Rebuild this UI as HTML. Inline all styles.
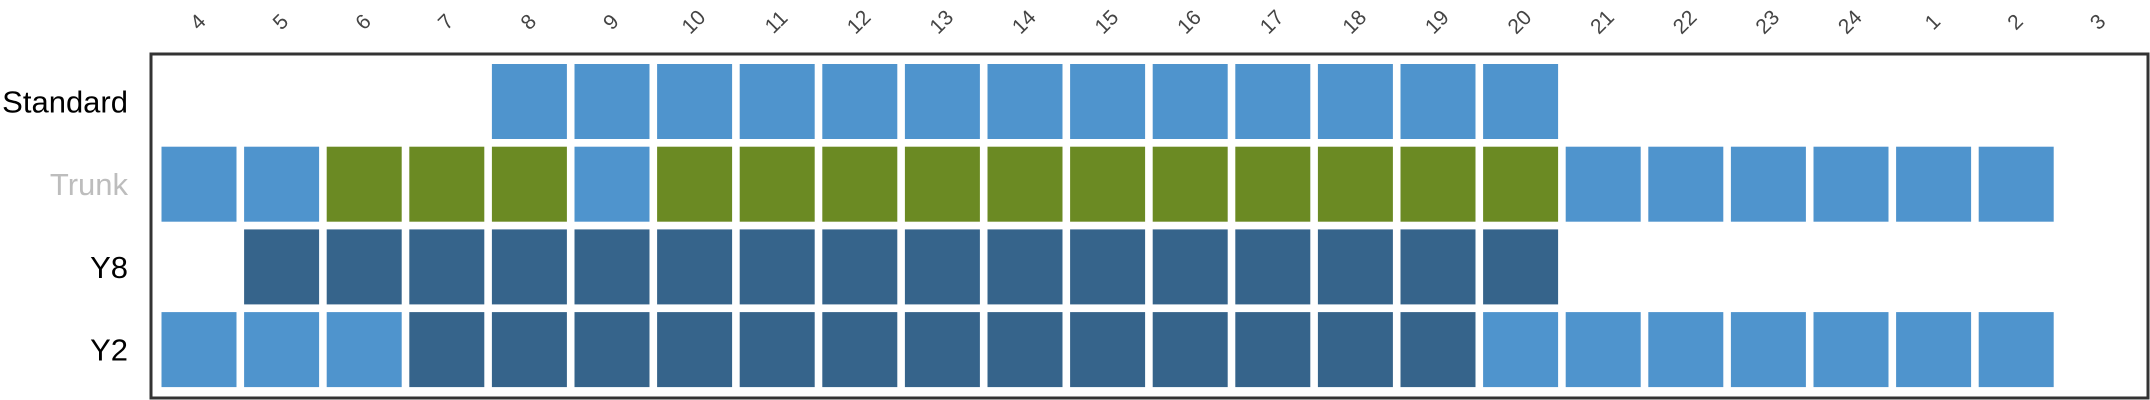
<!DOCTYPE html>
<html><head><meta charset="utf-8"><style>
html,body{margin:0;padding:0;background:#fff}
svg{display:block}
</style></head><body>
<svg id="chart" width="2150" height="400" xmlns="http://www.w3.org/2000/svg" font-family="Liberation Sans, sans-serif">
<rect x="151" y="54" width="1997" height="344" fill="#fff" stroke="#333" stroke-width="3"/>
<g id="cells"></g><g id="xlabels"></g><g id="ylabels"></g>
</svg>
<script>
const hours = ["4","5","6","7","8","9","10","11","12","13","14","15","16","17","18","19","20","21","22","23","24","1","2","3"];
const rows = ["Standard","Trunk","Y8","Y2"];
// codes: 0 none, 1 light blue, 2 green, 3 dark blue
const standardVals = [0,0,0,0,1,1,1,1,1,1,1,1,1,1,1,1,1,0,0,0,0,0,0,0];
const trunkVals    = [1,1,2,2,2,1,2,2,2,2,2,2,2,2,2,2,2,1,1,1,1,1,1,0];
const y8Vals       = [0,3,3,3,3,3,3,3,3,3,3,3,3,3,3,3,3,0,0,0,0,0,0,0];
const y2Vals       = [1,1,1,3,3,3,3,3,3,3,3,3,3,3,3,3,1,1,1,1,1,1,1,0];
const series = [standardVals, trunkVals, y8Vals, y2Vals];
const colors = {1:"#4f94cd",2:"#6b8a23",3:"#36648b"};
const NS="http://www.w3.org/2000/svg";
const xc = i => 199 + i*82.6;
const yc = j => 101.5 + j*82.7;
const W=75, H=75;
const cg=document.getElementById('cells'), xg=document.getElementById('xlabels'), yg=document.getElementById('ylabels');
series.forEach((vals,j)=>{
  vals.forEach((v,i)=>{
    if(!v) return;
    const r=document.createElementNS(NS,'rect');
    r.setAttribute('x',xc(i)-W/2); r.setAttribute('y',yc(j)-H/2);
    r.setAttribute('width',W); r.setAttribute('height',H);
    r.setAttribute('fill',colors[v]);
    
    
    cg.appendChild(r);
  });
});
hours.forEach((h,i)=>{
  const t=document.createElementNS(NS,'text');
  t.setAttribute('x',0); t.setAttribute('y',0);
  t.setAttribute('transform',`translate(${xc(i)},23) rotate(-45)`);
  t.setAttribute('text-anchor','middle'); t.setAttribute('dominant-baseline','middle');
  t.setAttribute('font-size','21'); t.setAttribute('fill','#444');
  t.textContent=h;
  
  
  xg.appendChild(t);
});
rows.forEach((r,j)=>{
  const t=document.createElementNS(NS,'text');
  t.setAttribute('x',128); t.setAttribute('y',yc(j)+11);
  t.setAttribute('text-anchor','end'); t.setAttribute('font-size','31');
  t.setAttribute('fill', r==="Trunk" ? "#bdbdbd" : "#000");
  t.textContent=r;
  
  
  yg.appendChild(t);
});
</script>
</body></html>
